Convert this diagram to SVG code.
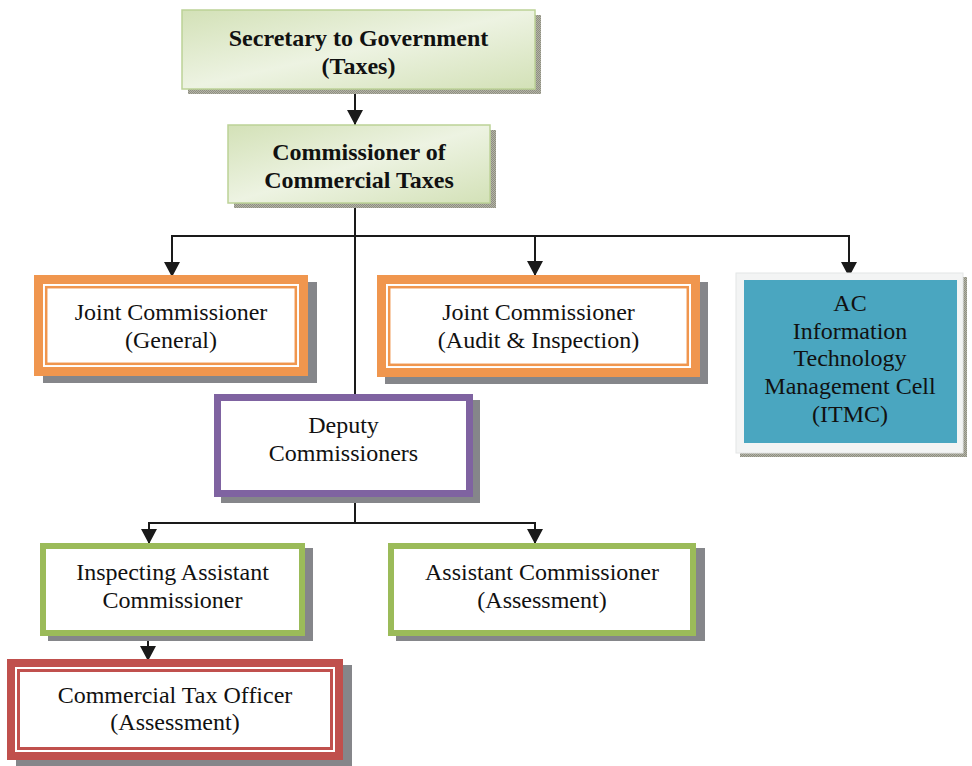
<svg xmlns="http://www.w3.org/2000/svg" width="972" height="766" viewBox="0 0 972 766">
  <defs>
    <linearGradient id="paleGreen" x1="0" y1="0" x2="1" y2="1">
      <stop offset="0" stop-color="#d3e1b7"/>
      <stop offset="0.5" stop-color="#edf3e2"/>
      <stop offset="1" stop-color="#d3e1b7"/>
    </linearGradient>
    <pattern id="stipple" width="2" height="2" patternUnits="userSpaceOnUse">
      <rect width="2" height="2" fill="#b4b4a6"/>
      <rect width="1" height="1" fill="#8e8e82"/>
      <rect x="1" y="1" width="1" height="1" fill="#8e8e82"/>
    </pattern>
    <marker id="arrow" markerUnits="userSpaceOnUse" markerWidth="16" markerHeight="16" refX="15" refY="8" orient="auto">
      <path d="M0,0 L15,8 L0,16 z" fill="#1a1a1a"/>
    </marker>
  </defs>
  <style>
    .t { font-family: "Liberation Serif", "Times New Roman", serif; font-size: 24px; fill: #111; text-anchor: middle; }
    .b { font-weight: bold; }
    .shadow { fill: #85868a; }
    .soft { fill: url(#stipple); }
    .head { fill: url(#paleGreen); stroke: #bcd297; stroke-width: 1.5; }
    .inner { fill: #ffffff; }
    .conn { fill: none; stroke: #1a1a1a; stroke-width: 2; }
  </style>

  <rect width="972" height="766" fill="#ffffff"/>

  <!-- connectors -->
  <g id="connectors">
    <line class="conn" x1="355" y1="89" x2="355" y2="125" marker-end="url(#arrow)"/>
    <line class="conn" x1="355" y1="203" x2="355" y2="394"/>
    <polyline class="conn" points="172,236 849,236"/>
    <line class="conn" x1="172" y1="235" x2="172" y2="277" marker-end="url(#arrow)"/>
    <line class="conn" x1="535" y1="236" x2="535" y2="276" marker-end="url(#arrow)"/>
    <line class="conn" x1="849" y1="235" x2="849" y2="277" marker-end="url(#arrow)"/>
    <line class="conn" x1="355" y1="497" x2="355" y2="523"/>
    <polyline class="conn" points="149,523 535,523"/>
    <line class="conn" x1="149" y1="522" x2="149" y2="544" marker-end="url(#arrow)"/>
    <line class="conn" x1="535" y1="522" x2="535" y2="544" marker-end="url(#arrow)"/>
    <line class="conn" x1="148" y1="636" x2="148" y2="661" marker-end="url(#arrow)"/>
  </g>

  <!-- Secretary to Government -->
  <g id="secretary">
    <rect class="soft" x="188" y="15" width="353" height="79"/>
    <rect class="head" x="182" y="10" width="353" height="79"/>
    <text class="t b" x="358.5" y="46">Secretary to Government</text>
    <text class="t b" x="358.5" y="74">(Taxes)</text>
  </g>

  <!-- Commissioner of Commercial Taxes -->
  <g id="commissioner">
    <rect class="soft" x="234" y="130" width="262" height="78"/>
    <rect class="head" x="228" y="125" width="262" height="78"/>
    <text class="t b" x="359" y="160">Commissioner of</text>
    <text class="t b" x="359" y="188">Commercial Taxes</text>
  </g>

  <!-- Joint Commissioner (General) -->
  <g id="jc-general">
    <rect class="shadow" x="43" y="282" width="274" height="101"/>
    <rect x="34" y="275" width="274" height="101" fill="#f0964e"/>
    <rect class="inner" x="43" y="284" width="256" height="83"/>
    <rect x="46.2" y="287.2" width="249.6" height="76.6" fill="#ffffff" stroke="#f0964e" stroke-width="2.5"/>
    <text class="t" x="171" y="320">Joint Commissioner</text>
    <text class="t" x="171" y="348">(General)</text>
  </g>

  <!-- Joint Commissioner (Audit & Inspection) -->
  <g id="jc-audit">
    <rect class="shadow" x="385" y="282" width="323" height="102"/>
    <rect x="377" y="275" width="323" height="102" fill="#f0964e"/>
    <rect class="inner" x="386" y="284" width="305" height="84"/>
    <rect x="389.2" y="287.2" width="298.6" height="77.6" fill="#ffffff" stroke="#f0964e" stroke-width="2.5"/>
    <text class="t" x="538.5" y="320">Joint Commissioner</text>
    <text class="t" x="538.5" y="348">(Audit &amp; Inspection)</text>
  </g>

  <!-- AC Information Technology Management Cell -->
  <g id="itmc">
    <rect class="soft" x="740" y="277" width="227" height="180"/>
    <rect x="736" y="273" width="227" height="180" fill="#f3f4f4" stroke="#e4e6e6" stroke-width="1"/>
    <rect x="744" y="280" width="213" height="163" fill="#4aa6c0"/>
    <text class="t" x="850" y="311">AC</text>
    <text class="t" x="850" y="339">Information</text>
    <text class="t" x="850" y="366">Technology</text>
    <text class="t" x="850" y="394">Management Cell</text>
    <text class="t" x="850" y="422">(ITMC)</text>
  </g>

  <!-- Deputy Commissioners -->
  <g id="deputy">
    <rect class="shadow" x="221" y="400" width="259" height="103"/>
    <rect x="217.5" y="397.5" width="252" height="96" fill="#ffffff" stroke="#7f63a1" stroke-width="7"/>
    <text class="t" x="343.5" y="433">Deputy</text>
    <text class="t" x="343.5" y="461">Commissioners</text>
  </g>

  <!-- Inspecting Assistant Commissioner -->
  <g id="iac">
    <rect class="shadow" x="48" y="548" width="265" height="93"/>
    <rect x="43" y="546" width="259" height="87" fill="#ffffff" stroke="#9bbb59" stroke-width="6"/>
    <text class="t" x="172.5" y="580">Inspecting Assistant</text>
    <text class="t" x="172.5" y="608">Commissioner</text>
  </g>

  <!-- Assistant Commissioner (Assessment) -->
  <g id="ac-assessment">
    <rect class="shadow" x="396" y="548" width="309" height="93"/>
    <rect x="391" y="546" width="302" height="87" fill="#ffffff" stroke="#9bbb59" stroke-width="6"/>
    <text class="t" x="542" y="580">Assistant Commissioner</text>
    <text class="t" x="542" y="608">(Assessment)</text>
  </g>

  <!-- Commercial Tax Officer (Assessment) -->
  <g id="cto">
    <rect class="shadow" x="16" y="665" width="336" height="101"/>
    <rect x="7" y="659" width="336" height="101" fill="#c0504d"/>
    <rect class="inner" x="15" y="667" width="320" height="85"/>
    <rect x="18.5" y="670.5" width="313" height="78" fill="#ffffff" stroke="#c0504d" stroke-width="3"/>
    <text class="t" x="175" y="703">Commercial Tax Officer</text>
    <text class="t" x="175" y="730">(Assessment)</text>
  </g>
</svg>
